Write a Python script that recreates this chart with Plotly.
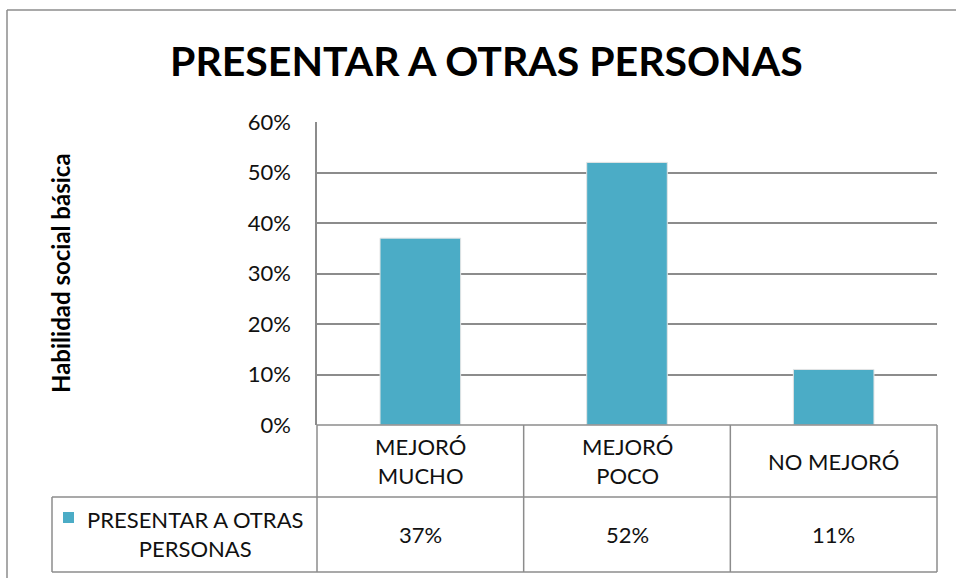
import plotly.graph_objects as go

# Data
categories = ["MEJORÓ MUCHO", "MEJORÓ POCO", "NO MEJORÓ"]
category_labels = ["MEJORÓ<br>MUCHO", "MEJORÓ<br>POCO", "NO MEJORÓ"]
values = [0.37, 0.52, 0.11]
series_name = "PRESENTAR A OTRAS PERSONAS"
series_label = "PRESENTAR A OTRAS<br>PERSONAS"
title_text = "PRESENTAR A OTRAS PERSONAS"
y_title = "Habilidad social básica"

W, H = 956, 578
BAR_COLOR = "#4BACC6"
LINE = "#8C8C8C"
FONT = "Lato"
TXT = "#111111"


def px(x):
    return x / W


def py(y):
    return 1 - y / H


def label(x, y, text, size, color=TXT, angle=0):
    return dict(x=px(x), y=py(y), xref="paper", yref="paper", text=text,
                showarrow=False, align="center", xanchor="center", yanchor="middle",
                textangle=angle, font=dict(family=FONT, size=size, color=color))


# plot area in pixels
PL, PR, PT, PB = 317, 937, 122, 425
ROW1_B, ROW2_B = 497, 572
LEG_L = 52

fig = go.Figure()
fig.add_trace(go.Bar(
    x=categories, y=values, name=series_name,
    marker=dict(color=BAR_COLOR, line=dict(color="#E4E4E4", width=1)),
    width=0.39, showlegend=False,
))

shapes = []
# outer chart frame (top and left edges)
shapes.append(dict(type="line", xref="paper", yref="paper", x0=px(7), x1=1,
                   y0=py(10), y1=py(10), line=dict(color=LINE, width=1.5)))
shapes.append(dict(type="line", xref="paper", yref="paper", x0=px(7), x1=px(7),
                   y0=py(10), y1=0, line=dict(color=LINE, width=1.5)))

# data table grid
col_edges = [PL + i * (PR - PL) / 3 for i in range(4)]
for xe in col_edges:
    shapes.append(dict(type="line", xref="paper", yref="paper", x0=px(xe), x1=px(xe),
                       y0=py(PB), y1=py(ROW2_B), line=dict(color=LINE, width=1.5)))
for ye in (PB, ROW1_B, ROW2_B):
    x0 = LEG_L if ye != PB else PL
    shapes.append(dict(type="line", xref="paper", yref="paper", x0=px(x0), x1=px(PR),
                       y0=py(ye), y1=py(ye), line=dict(color=LINE, width=1.5)))
shapes.append(dict(type="line", xref="paper", yref="paper", x0=px(LEG_L), x1=px(LEG_L),
                   y0=py(ROW1_B), y1=py(ROW2_B), line=dict(color=LINE, width=1.5)))
# legend key
shapes.append(dict(type="rect", xref="paper", yref="paper", x0=px(63), x1=px(74),
                   y0=py(512), y1=py(523), fillcolor=BAR_COLOR, line=dict(width=0)))

annotations = []
for i, (lab, v) in enumerate(zip(category_labels, values)):
    cx = (col_edges[i] + col_edges[i + 1]) / 2
    annotations.append(label(cx, (PB + ROW1_B) / 2, lab, 22))
    annotations.append(label(cx, (ROW1_B + ROW2_B) / 2, f"{round(v * 100)}%", 22))
annotations.append(label(195, 534, series_label, 22))
annotations.append(label(486, 60, f"<b>{title_text}</b>", 41, "#000"))
annotations.append(label(60, 273, f"<b>{y_title}</b>", 24, "#000", -90))

fig.update_layout(
    template="none",
    width=W, height=H,
    margin=dict(l=0, r=0, t=0, b=0, pad=0, autoexpand=False),
    paper_bgcolor="white", plot_bgcolor="white",
    xaxis=dict(domain=[px(PL), px(PR)], showticklabels=False, showgrid=False,
               zeroline=False, showline=False, automargin=False),
    yaxis=dict(domain=[py(PB), py(PT)], range=[0, 0.6], dtick=0.1, tickformat=".0%",
               showgrid=True, gridcolor=LINE, gridwidth=1.5, zeroline=False,
               showline=True, linecolor=LINE, linewidth=1.5,
               ticks="", ticklen=0, ticklabelstandoff=20, automargin=False,
               tickfont=dict(family=FONT, size=22, color=TXT)),
    shapes=shapes,
    annotations=annotations,
    bargap=0.6,
    showlegend=False,
)

fig.write_html("out.html")
